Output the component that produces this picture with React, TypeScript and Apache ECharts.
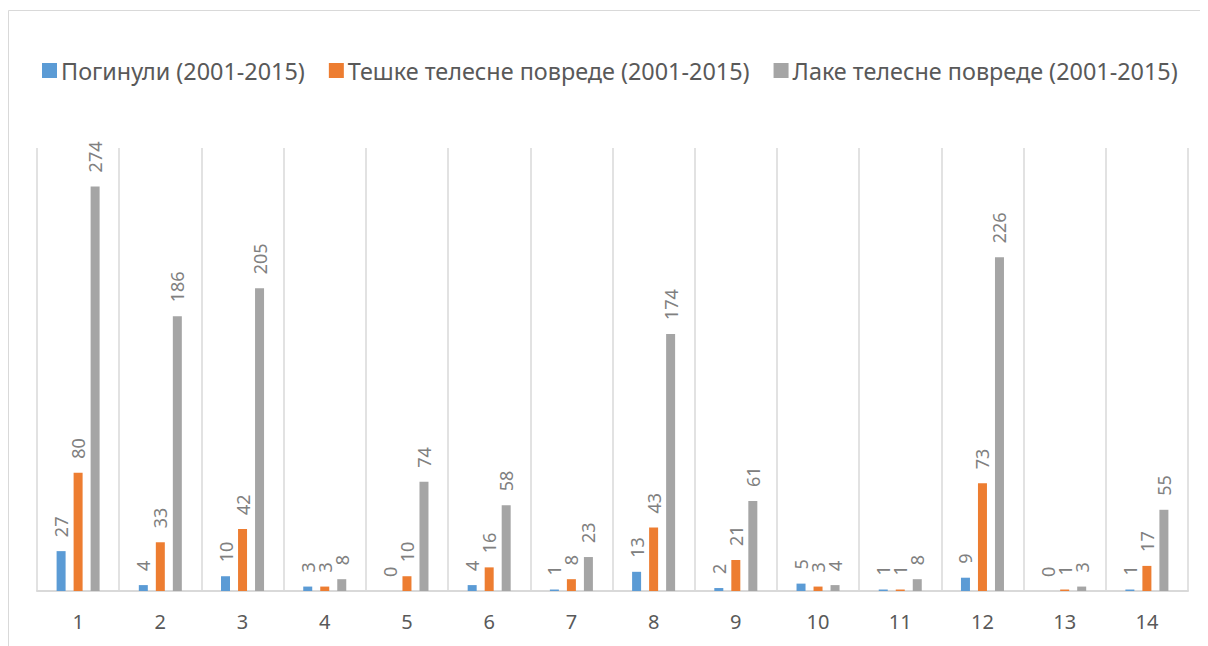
import React, { useEffect, useRef } from "react";
import * as echarts from "echarts";

const categories = ["1", "2", "3", "4", "5", "6", "7", "8", "9", "10", "11", "12", "13", "14"];
const seriesNames = [
  "Погинули (2001-2015)",
  "Тешке телесне повреде (2001-2015)",
  "Лаке телесне повреде (2001-2015)",
];
const killed = [27, 4, 10, 3, 0, 4, 1, 13, 2, 5, 1, 9, 0, 1];
const severe = [80, 33, 42, 3, 10, 16, 8, 43, 21, 3, 1, 73, 1, 17];
const light = [274, 186, 205, 8, 74, 58, 23, 174, 61, 4, 8, 226, 3, 55];
const colors = ["#5b9bd5", "#ed7d31", "#a5a5a5"];

const FONT = "'Noto Sans', 'DejaVu Sans', sans-serif";

export default function App() {
  const ref = useRef<HTMLDivElement>(null);
  useEffect(() => {
    if (!ref.current) return;
    const chart = echarts.init(ref.current, undefined, { renderer: "svg" });
    const mk = (name: string, data: number[], color: string) => ({
      name,
      type: "bar",
      data,
      barWidth: 9,
      barGap: "89%",
      itemStyle: { color },
      label: {
        show: true,
        position: "top",
        rotate: 90,
        align: "left",
        verticalAlign: "middle",
        distance: 14,
        color: "#808080",
        fontSize: 18,
        fontFamily: FONT,
      },
    });
    chart.setOption({
      animation: false,
      textStyle: { fontFamily: FONT },
      graphic: [
        {
          type: "rect",
          shape: { x: 0.5, y: 2.5, width: 1400, height: 900 },
          style: { fill: "none", stroke: "#d9d9d9", lineWidth: 1 },
          silent: true,
        },
      ],
      legend: {
        left: 34,
        top: 51,
        padding: 0,
        itemWidth: 15,
        itemHeight: 15,
        itemGap: 24,
        icon: "rect",
        textStyle: { color: "#595959", fontSize: 23.4, fontFamily: FONT, padding: [0, 0, 0, -1] },
        data: seriesNames,
      },
      grid: { left: 29, right: 20, top: 140, bottom: 55, containLabel: false },
      xAxis: {
        type: "category",
        data: categories,
        boundaryGap: true,
        axisLine: { show: true, lineStyle: { color: "#d9d9d9", width: 2 } },
        axisTick: { show: false },
        splitLine: { show: true, lineStyle: { color: "#d9d9d9", width: 1.5 } },
        axisLabel: { color: "#595959", fontSize: 20, margin: 20, fontFamily: FONT },
      },
      yAxis: {
        type: "value",
        min: 0,
        max: 300,
        interval: 50,
        show: false,
        splitLine: { show: false },
      },
      series: [
        mk(seriesNames[0], killed, colors[0]),
        mk(seriesNames[1], severe, colors[1]),
        mk(seriesNames[2], light, colors[2]),
      ],
    });
    return () => chart.dispose();
  }, []);
  return <div ref={ref} style={{ width: 1200, height: 638 }} />;
}
